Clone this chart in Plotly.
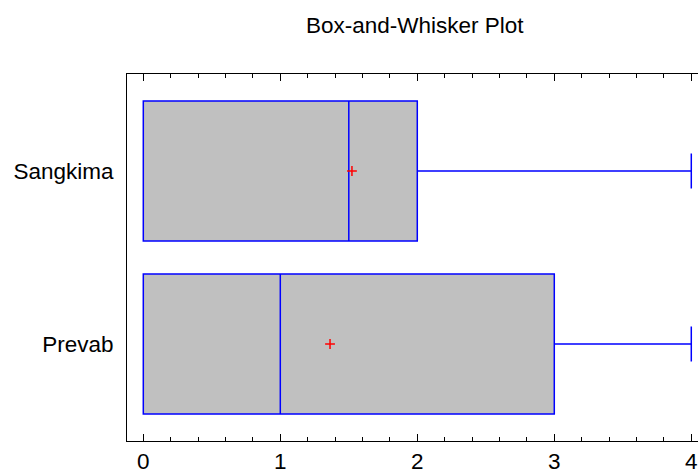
import plotly.graph_objects as go

categories = ["Prevab", "Sangkima"]
q1 = [0, 0]
median = [1, 1.5]
q3 = [3, 2]
lower = [0, 0]
upper = [4, 4]
means = [1.363, 1.523]
x_ticks = [0, 1, 2, 3, 4]

FONT = "Liberation Sans, Arial, sans-serif"

fig = go.Figure()
for i, c in enumerate(categories):
    fig.add_trace(go.Box(
        y=[c], orientation="h",
        q1=[q1[i]], median=[median[i]], q3=[q3[i]],
        lowerfence=[lower[i]], upperfence=[upper[i]],
        fillcolor="#C0C0C0", line=dict(color="#0000FF", width=1.5),
        width=0.81, whiskerwidth=0.25, showlegend=False, hoverinfo="skip",
    ))

fig.add_trace(go.Scatter(
    x=means, y=categories, mode="markers",
    marker=dict(symbol="cross-thin", size=7, line=dict(color="#FF0000", width=1.5)),
    showlegend=False, hoverinfo="skip",
))

fig.update_layout(
    width=698, height=473,
    margin=dict(l=127, r=0, t=74, b=32),
    paper_bgcolor="white", plot_bgcolor="white",
    font=dict(family=FONT, size=22, color="black"),
    title=dict(text="Box-and-Whisker Plot", x=0.504, xref="paper", xanchor="center",
               y=0.946, yref="container", yanchor="middle",
               font=dict(family=FONT, size=22.5, color="black")),
    xaxis=dict(range=[-0.119, 4.049], tickvals=x_ticks, ticktext=[str(v) for v in x_ticks],
               ticks="inside", ticklen=7, tickwidth=1, tickcolor="black",
               minor=dict(dtick=0.2, tick0=0, ticks="inside", ticklen=4, tickcolor="black", tickwidth=1, showgrid=False),
               showline=True, linecolor="black", linewidth=1, mirror="ticks",
               showgrid=False, zeroline=False, tickfont=dict(size=22.5, family=FONT)),
    yaxis=dict(type="category", categoryorder="array", categoryarray=categories,
               range=[-0.561, 1.561], showline=True, linecolor="black", linewidth=1,
               ticks="", showgrid=False, zeroline=False, ticklabelstandoff=8,
               tickfont=dict(size=22.5, family=FONT)),
)

fig.write_html("out.html", config={"displayModeBar": False},
               post_script="document.body.style.margin='0';document.body.style.overflow='hidden';")
